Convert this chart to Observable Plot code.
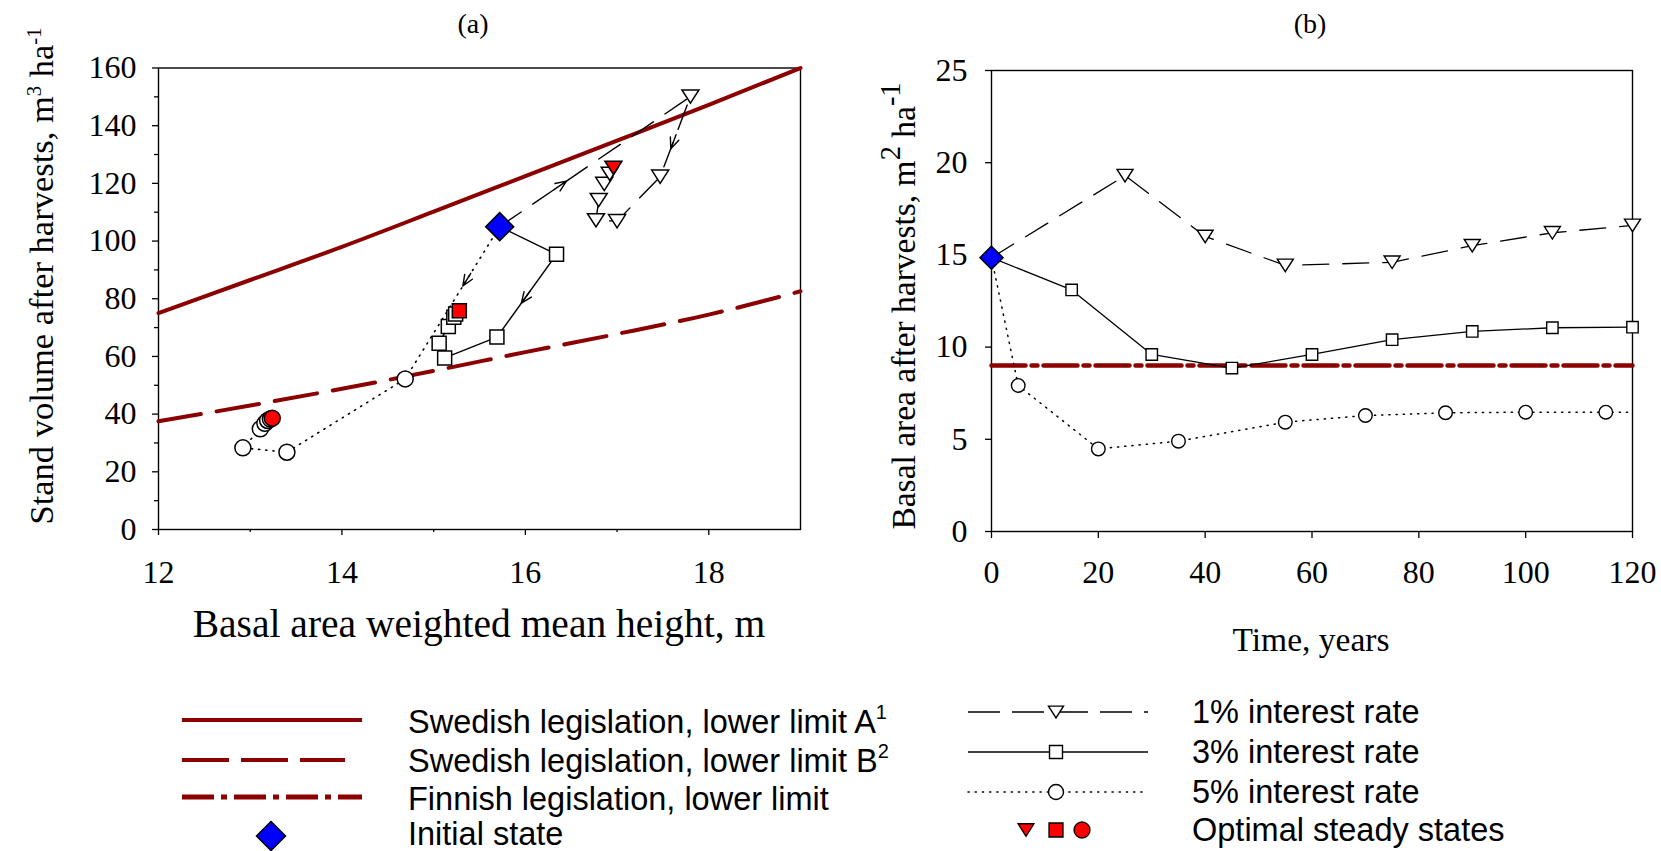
<!DOCTYPE html>
<html><head><meta charset="utf-8">
<script src="https://cdn.jsdelivr.net/npm/d3@7"></script>
<script src="https://cdn.jsdelivr.net/npm/@observablehq/plot@0.6"></script>
<style>
body{margin:0;background:#fff;}
#root{position:relative;width:1661px;height:851px;overflow:hidden;font-family:"Liberation Serif","Times New Roman",serif;color:#000;}
.abs{position:absolute;white-space:nowrap;line-height:1;}
.abs sup{font-size:60%;vertical-align:0.55em;line-height:0;}
.plotbox{position:absolute;top:0;}
.plotbox svg{max-width:none;}
.plotbox svg text{font-family:"Liberation Serif","Times New Roman",serif;}
</style></head><body><div id="root"></div>
<script>
// ---------- DATA ----------
// Panel (a): legislation limits (stand volume vs. basal-area weighted mean height)
const limitHeight   = [12, 13, 14, 15, 16, 17, 18, 19];
const limitA_volume = [75, 86.5, 98, 110.2, 122.5, 134.8, 147.2, 160];
const limitB_volume = [37.5, 43, 48.8, 55, 61.5, 67.8, 74.5, 82.6];
// initial state
const initialHeight = 15.72, initialVolume = 105, initialTime = 0, initialBasal = 14.85;
// panel (a) trajectories (after the initial state; last point = optimal steady state)
const rate1_height = [17.80, 17.47, 17.00, 16.77, 16.80, 16.86, 16.92, 16.96];
const rate1_volume = [150.1, 122.3, 106.9, 107.2, 114.2, 119.8, 123.3, 125.4];
const rate3_height = [16.34, 15.69, 15.12, 15.06, 15.16, 15.22, 15.24, 15.28];
const rate3_volume = [95.4, 66.7, 59.5, 64.6, 70.4, 73.6, 74.7, 75.8];
const rate5_height = [14.69, 13.40, 12.92, 13.11, 13.16, 13.19, 13.22, 13.24];
const rate5_volume = [52.2, 26.8, 28.3, 34.9, 36.8, 37.8, 38.3, 38.6];
// arrows along trajectories: series, segment index (0 = from initial state), position along segment
const arrowSeries = ["1%", "1%", "3%", "5%"];
const arrowSegment = [0, 1, 1, 0];
const arrowPosition = [0.35, 0.65, 0.59, 0.39];
// Panel (b): basal area over time
const rate1_time  = [25, 40, 55, 75, 90, 105, 120];
const rate1_basal = [19.3, 16.0, 14.43, 14.6, 15.5, 16.2, 16.6];
const rate3_time  = [15, 30, 45, 60, 75, 90, 105, 120];
const rate3_basal = [13.1, 9.6, 8.86, 9.6, 10.4, 10.85, 11.05, 11.08];
const rate5_time  = [5, 20, 35, 55, 70, 85, 100, 115];
const rate5_basal = [7.92, 4.48, 4.9, 5.93, 6.29, 6.44, 6.47, 6.47];
const horizonEnd = 120;
const finnishLimit = 9;
// ticks
const xTicksA = [12, 14, 16, 18], xMinorA = [13, 15, 17];
const yTicksA = [0, 20, 40, 60, 80, 100, 120, 140, 160], yMinorA = [10, 30, 50, 70, 90, 110, 130, 150];
const xTicksB = [0, 20, 40, 60, 80, 100, 120];
const yTicksB = [0, 5, 10, 15, 20, 25];

// ---------- STYLE ----------
const SERIF = '"Liberation Serif", "Times New Roman", serif';
const SANS = '"Liberation Sans", Arial, sans-serif';
const DARKRED = "#8b0000";
const TICKFONT = 32;
const root = document.getElementById("root");

const rOf = size => Math.sqrt(size / Math.PI);
const symDown = {draw(c, s){const r=rOf(s), h=r*0.78; c.moveTo(-r,-h); c.lineTo(r,-h); c.lineTo(0,h); c.closePath();}};
const symSquare = {draw(c, s){const r=rOf(s); c.rect(-r,-r,2*r,2*r);}};
const symDiamond = {draw(c, s){const r=rOf(s); c.moveTo(0,-r); c.lineTo(r,0); c.lineTo(0,r); c.lineTo(-r,0); c.closePath();}};
const symCircle = {draw(c, s){const r=rOf(s); c.moveTo(r,0); c.arc(0,0,r,0,2*Math.PI); c.closePath();}};
const chevron = {draw(c, l){const h=l*0.72, w=l*0.3; c.moveTo(0,0); c.lineTo(0,-l); c.moveTo(-w,-l+h); c.lineTo(0,-l); c.lineTo(w,-l+h);}};
const fmt = d => String(d);

// ---------- TABLES ----------
const zipA = (hs, vs) => hs.map((h, i) => ({h, v: vs[i]}));
const init = {h: initialHeight, v: initialVolume};
const pathsA = {
  "1%": [init, ...zipA(rate1_height, rate1_volume)],
  "3%": [init, ...zipA(rate3_height, rate3_volume)],
  "5%": [init, ...zipA(rate5_height, rate5_volume)]
};
const limitA = zipA(limitHeight, limitA_volume);
const limitB = zipA(limitHeight, limitB_volume);

// layout (panel a)
const A = {w: 830, h: 680, ml: 158, mr: 30, mt: 67.5, mb: 151};
const kx = (A.w - A.ml - A.mr) / 7, ky = (A.h - A.mt - A.mb) / 160;
const arrows = arrowSeries.map((s, i) => {
  const p = pathsA[s][arrowSegment[i]], q = pathsA[s][arrowSegment[i] + 1], t = arrowPosition[i];
  return {h: p.h + (q.h - p.h) * t, v: p.v + (q.v - p.v) * t,
          angle: Math.atan2((q.h - p.h) * kx, (q.v - p.v) * ky) * 180 / Math.PI};
});
const markerSets = [["5%", symCircle, 8], ["3%", symSquare, 7], ["1%", symDown, 8.5]];
const axisText = {fontFamily: SERIF, fontSize: TICKFONT, label: null, strokeWidth: 1.3};

const plotA = Plot.plot({
  width: A.w, height: A.h, marginLeft: A.ml, marginRight: A.mr, marginTop: A.mt, marginBottom: A.mb,
  x: {domain: [12, 19]}, y: {domain: [0, 160]},
  style: {fontFamily: SERIF, fontSize: TICKFONT + "px", color: "black", background: "transparent", overflow: "visible"},
  marks: [
    Plot.axisX({...axisText, ticks: xTicksA, tickSize: 6, tickPadding: 25, tickFormat: fmt}),
    Plot.axisX({...axisText, ticks: xMinorA, tickSize: 3, tickFormat: () => ""}),
    Plot.axisY({...axisText, ticks: yTicksA, tickSize: 6, tickPadding: 16, tickFormat: fmt}),
    Plot.axisY({...axisText, ticks: yMinorA, tickSize: 4, tickFormat: () => ""}),
    Plot.frame({stroke: "black", strokeWidth: 1.4}),
    Plot.line(limitA, {x: "h", y: "v", stroke: DARKRED, strokeWidth: 4, curve: "monotone-x"}),
    Plot.line(limitB, {x: "h", y: "v", stroke: DARKRED, strokeWidth: 4, strokeDasharray: "43,16", curve: "monotone-x"}),
    Plot.line(pathsA["5%"], {x: "h", y: "v", stroke: "black", strokeWidth: 1.6, strokeDasharray: "1.2,6", strokeLinecap: "round"}),
    Plot.line(pathsA["3%"], {x: "h", y: "v", stroke: "black", strokeWidth: 1.4}),
    Plot.line(pathsA["1%"], {x: "h", y: "v", stroke: "black", strokeWidth: 1.4, strokeDasharray: "26,14"}),
    Plot.vector(arrows, {x: "h", y: "v", rotate: "angle", length: 15, anchor: "end", shape: chevron, stroke: "black", fill: "none", strokeWidth: 1.4}),
    ...markerSets.map(([s, sym, r]) => Plot.dot(pathsA[s].slice(1, -1), {x: "h", y: "v", symbol: sym, r, fill: "white", stroke: "black", strokeWidth: 1.5})),
    ...markerSets.map(([s, sym, r]) => Plot.dot(pathsA[s].slice(-1), {x: "h", y: "v", symbol: sym, r, fill: "red", stroke: "black", strokeWidth: 1.5})),
    Plot.dot([init], {x: "h", y: "v", symbol: symDiamond, r: 14, fill: "#0000ff", stroke: "black", strokeWidth: 1.5})
  ]
});
const boxA = document.createElement("div"); boxA.className = "plotbox"; boxA.style.left = "0px";
boxA.appendChild(plotA); root.appendChild(boxA);

// ---------- PANEL B ----------
const zipB = (ts, bs) => ts.map((t, i) => ({t, b: bs[i]}));
const initB = {t: initialTime, b: initialBasal};
const pathsB = {
  "1%": [initB, ...zipB(rate1_time, rate1_basal)],
  "3%": [initB, ...zipB(rate3_time, rate3_basal)],
  "5%": [initB, ...zipB(rate5_time, rate5_basal)]
};
const line5 = [...pathsB["5%"], {t: horizonEnd, b: rate5_basal[rate5_basal.length - 1]}];
const finnish = [{t: initialTime, b: finnishLimit}, {t: horizonEnd, b: finnishLimit}];

const plotB = Plot.plot({
  width: 831, height: 680, marginLeft: 161, marginRight: 29, marginTop: 70, marginBottom: 149,
  x: {domain: [0, 120]}, y: {domain: [0, 25]},
  style: {fontFamily: SERIF, fontSize: TICKFONT + "px", color: "black", background: "transparent", overflow: "visible"},
  marks: [
    Plot.axisX({...axisText, ticks: xTicksB, tickSize: 7, tickPadding: 22, tickFormat: fmt}),
    Plot.axisY({...axisText, ticks: yTicksB, tickSize: 6, tickPadding: 18, tickFormat: fmt}),
    Plot.frame({stroke: "black", strokeWidth: 1.4}),
    Plot.line(finnish, {x: "t", y: "b", stroke: DARKRED, strokeWidth: 4.5, strokeDasharray: "34,6,6,6"}),
    Plot.line(pathsB["1%"], {x: "t", y: "b", stroke: "black", strokeWidth: 1.3, strokeDasharray: "26,14"}),
    Plot.line(pathsB["3%"], {x: "t", y: "b", stroke: "black", strokeWidth: 1.3}),
    Plot.line(line5, {x: "t", y: "b", stroke: "black", strokeWidth: 1.5, strokeDasharray: "1.2,6", strokeLinecap: "round"}),
    Plot.dot(pathsB["1%"].slice(1), {x: "t", y: "b", symbol: symDown, r: 8, fill: "white", stroke: "black", strokeWidth: 1.4}),
    Plot.dot(pathsB["3%"].slice(1), {x: "t", y: "b", symbol: symSquare, r: 5.7, fill: "white", stroke: "black", strokeWidth: 1.4}),
    Plot.dot(pathsB["5%"].slice(1), {x: "t", y: "b", symbol: symCircle, r: 6.8, fill: "white", stroke: "black", strokeWidth: 1.4}),
    Plot.dot([initB], {x: "t", y: "b", symbol: symDiamond, r: 11.5, fill: "#0000ff", stroke: "black", strokeWidth: 1.5})
  ]
});
const boxB = document.createElement("div"); boxB.className = "plotbox"; boxB.style.left = "830px";
boxB.appendChild(plotB); root.appendChild(boxB);

// ---------- TITLES ----------
function label(html, x, y, size, rotate, family) {
  const d = document.createElement("div");
  d.className = "abs";
  d.innerHTML = html;
  d.style.left = x + "px"; d.style.top = y + "px";
  d.style.fontSize = size + "px";
  d.style.fontFamily = family || SERIF;
  d.style.transform = "translate(-50%,-50%)" + (rotate ? " rotate(-90deg)" : "");
  root.appendChild(d);
}
label("(a)", 473, 24, 28);
label("(b)", 1310, 24, 28);
label("Stand volume after harvests, m<sup>3</sup> ha<sup>-1</sup>", 41, 276, 34.5, true);
label("Basal area after harvests, m<sup style='font-size:85%'>2</sup> ha<sup style='font-size:85%'>-1</sup>", 904, 306, 33.5, true);
label("Basal area weighted mean height, m", 479, 625, 39.5);
label("Time, years", 1311, 640, 33.5);

// ---------- LEGEND ----------
const leg = d3.create("svg").attr("width", 1661).attr("height", 851)
  .style("position", "absolute").style("left", "0px").style("top", "0px").style("pointer-events", "none");
const legendLines = [
  {y: 720, x1: 182, x2: 362, dash: null, w: 4},
  {y: 760, x1: 182, x2: 345, dash: "47,12", w: 4},
  {y: 797, x1: 182, x2: 362, dash: "32,7,6,7", w: 5}
];
legendLines.forEach(l => leg.append("line").attr("x1", l.x1).attr("x2", l.x2).attr("y1", l.y).attr("y2", l.y)
  .attr("stroke", DARKRED).attr("stroke-width", l.w).attr("stroke-dasharray", l.dash));
const sym = (s, r) => d3.symbol(s, Math.PI * r * r)();
leg.append("path").attr("d", sym(symDiamond, 14.5)).attr("transform", "translate(271,836)")
  .attr("fill", "#0000ff").attr("stroke", "black").attr("stroke-width", 1.5);
const leftTexts = [
  {y: 733, t: "Swedish legislation, lower limit A", sup: "1"},
  {y: 772, t: "Swedish legislation, lower limit B", sup: "2"},
  {y: 810, t: "Finnish legislation, lower limit"},
  {y: 845, t: "Initial state"}
];
const rightRows = [
  {y: 712, by: 723, dash: "32,12", sym: symDown, r: 7.5, t: "1% interest rate"},
  {y: 752, by: 763, dash: null, sym: symSquare, r: 6.5, t: "3% interest rate"},
  {y: 792, by: 803, dash: "1.2,6", sym: symCircle, r: 7.5, t: "5% interest rate"}
];
rightRows.forEach(r => {
  leg.append("line").attr("x1", 968).attr("x2", 1148).attr("y1", r.y).attr("y2", r.y)
    .attr("stroke", "black").attr("stroke-width", r.dash === "1.2,6" ? 1.5 : 1.3)
    .attr("stroke-dasharray", r.dash).attr("stroke-linecap", r.dash === "1.2,6" ? "round" : null);
  leg.append("path").attr("d", sym(r.sym, r.r)).attr("transform", `translate(1056,${r.y})`)
    .attr("fill", "white").attr("stroke", "black").attr("stroke-width", 1.4);
});
[[symDown, 1026, 8], [symSquare, 1056, 7], [symCircle, 1082, 8]].forEach(([s, x, r]) =>
  leg.append("path").attr("d", sym(s, r)).attr("transform", `translate(${x},830)`)
    .attr("fill", "red").attr("stroke", "black").attr("stroke-width", 1.3));
const allTexts = [
  ...leftTexts.map(d => ({...d, x: 408})),
  ...rightRows.map(d => ({y: d.by, t: d.t, x: 1192})),
  {y: 841, t: "Optimal steady states", x: 1192}
];
allTexts.forEach(d => {
  const tx = leg.append("text").attr("x", d.x).attr("y", d.y).attr("font-family", SANS).attr("font-size", 32.5).attr("fill", "black");
  tx.append("tspan").text(d.t);
  if (d.sup) tx.append("tspan").attr("font-size", 20).attr("dy", -14).text(d.sup);
});
root.appendChild(leg.node());
</script>
</body></html>
